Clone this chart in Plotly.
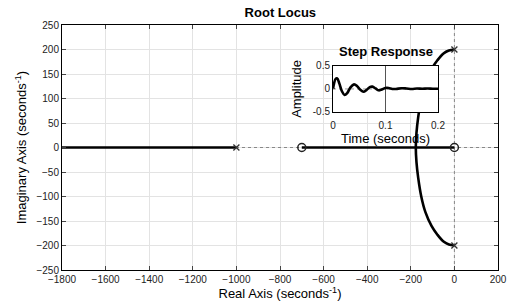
import plotly.graph_objects as go

# Root locus data
poles_re = [-1000, 0, 0]
poles_im = [0, 200, -200]
zeros_re = [-700, 0]
zeros_im = [0, 0]

branch_left_re = [-1800, -1000]
branch_left_im = [0, 0]
branch_mid_re = [-700, 0]
branch_mid_im = [0, 0]

cplx_re = [0, -25, -50, -78, -105, -133, -152, -166, -174, -177,
           -174, -166, -152, -133, -105, -78, -50, -25, 0]
cplx_im = [200, 198, 192, 178, 160, 132, 100, 62, 30, 0,
           -30, -62, -100, -132, -160, -178, -192, -198, -200]

# Step response (inset)
step_t = [0, 0.002, 0.005, 0.008, 0.012, 0.017, 0.022, 0.027, 0.033, 0.040,
          0.046, 0.052, 0.058, 0.064, 0.070, 0.075, 0.081, 0.087, 0.093, 0.100,
          0.106, 0.113, 0.120, 0.130, 0.140, 0.150, 0.160, 0.170, 0.180, 0.190, 0.200]
step_y = [0, 0.12, 0.22, 0.23, 0.12, -0.05, -0.13, -0.09, 0.03, 0.10,
          0.06, -0.02, -0.06, -0.02, 0.04, 0.05, 0.01, -0.03, -0.01, 0.02,
          0.02, 0.0, 0.0, 0.015, 0.01, 0.0, 0.01, 0.005, 0.01, 0.005, 0.005]

x_ticks = [-1800, -1600, -1400, -1200, -1000, -800, -600, -400, -200, 0, 200]
y_ticks = [-250, -200, -150, -100, -50, 0, 50, 100, 150, 200, 250]

FONT = "Liberation Sans, Arial, sans-serif"
LW = 2.6

fig = go.Figure()

# dotted zero lines
fig.add_trace(go.Scatter(x=[-1800, 200], y=[0, 0], mode="lines",
                         line=dict(color="#888888", width=1, dash="dot"),
                         hoverinfo="skip", showlegend=False))
fig.add_trace(go.Scatter(x=[0, 0], y=[-250, 250], mode="lines",
                         line=dict(color="#888888", width=1, dash="dot"),
                         hoverinfo="skip", showlegend=False))

for xr, yr in [(branch_left_re, branch_left_im), (branch_mid_re, branch_mid_im)]:
    fig.add_trace(go.Scatter(x=xr, y=yr, mode="lines",
                             line=dict(color="black", width=LW), showlegend=False))
fig.add_trace(go.Scatter(x=cplx_re, y=cplx_im, mode="lines",
                         line=dict(color="black", width=LW, shape="spline"),
                         showlegend=False))
fig.add_trace(go.Scatter(x=poles_re, y=poles_im, mode="markers",
                         marker=dict(symbol="x-thin", size=6, color="#333333",
                                     line=dict(color="#333333", width=1.3)),
                         showlegend=False))
fig.add_trace(go.Scatter(x=zeros_re, y=zeros_im, mode="markers",
                         marker=dict(symbol="circle-open", size=8, color="#222222",
                                     line=dict(color="#222222", width=1.5)),
                         showlegend=False))

# inset step response
fig.add_trace(go.Scatter(x=[0, 0.2], y=[0, 0], mode="lines", xaxis="x2", yaxis="y2",
                         line=dict(color="#999999", width=1, dash="dot"),
                         hoverinfo="skip", showlegend=False))
fig.add_trace(go.Scatter(x=[0.1, 0.1], y=[-0.5, 0.5], mode="lines", xaxis="x2", yaxis="y2",
                         line=dict(color="#555555", width=1),
                         hoverinfo="skip", showlegend=False))
fig.add_trace(go.Scatter(x=step_t, y=step_y, mode="lines", xaxis="x2", yaxis="y2",
                         line=dict(color="black", width=LW, shape="spline"),
                         showlegend=False))

fig.update_layout(
    width=507, height=308,
    margin=dict(l=62, r=9, t=25, b=38, autoexpand=False),
    paper_bgcolor="white", plot_bgcolor="white",
    font=dict(family=FONT, size=10, color="black"),
    title=dict(text="<b>Root Locus</b>", x=0.553, xanchor="center", y=0.96, yanchor="middle",
               font=dict(size=13, family=FONT)),
    xaxis=dict(range=[-1800, 200], tickvals=x_ticks, ticks="inside", ticklen=4,
               showline=True, linecolor="black", linewidth=1, mirror="ticks",
               showgrid=True, gridcolor="#e3e3e3", gridwidth=1, zeroline=False,
               automargin=False,
               tickfont=dict(size=10, color="#222222"),
               title=dict(text="Real Axis (seconds<sup>-1</sup>)", standoff=4,
                          font=dict(size=13))),
    yaxis=dict(range=[-250, 250], tickvals=y_ticks, ticks="inside", ticklen=4,
               showline=True, linecolor="black", linewidth=1, mirror="ticks",
               showgrid=True, gridcolor="#e3e3e3", gridwidth=1, zeroline=False,
               automargin=False,
               tickfont=dict(size=10, color="#222222"),
               title=dict(text="Imaginary Axis (seconds<sup>-1</sup>)", standoff=6,
                          font=dict(size=13))),
    xaxis2=dict(domain=[0.6216, 0.8624], anchor="y2", range=[0, 0.2],
                tickvals=[0, 0.1, 0.2], ticktext=["0", "0.1", "0.2"],
                ticks="inside", ticklen=2, automargin=False, ticklabelstandoff=4,
                showline=True, linecolor="black", linewidth=1, mirror=True,
                showgrid=False, zeroline=False,
                tickfont=dict(size=10, color="#222222"),
                title=dict(text="Time (seconds)", standoff=2, font=dict(size=13))),
    yaxis2=dict(domain=[0.645, 0.833], anchor="x2", range=[-0.5, 0.5],
                tickvals=[-0.5, 0, 0.5], ticktext=["-0.5", "0", "0.5"],
                ticks="inside", ticklen=2, automargin=False,
                showline=True, linecolor="black", linewidth=1, mirror=True,
                showgrid=False, zeroline=False,
                tickfont=dict(size=10, color="#222222"),
                title=dict(text="Amplitude", standoff=8, font=dict(size=13))),
    annotations=[dict(text="<b>Step Response</b>", xref="paper", yref="paper",
                      x=0.742, y=0.89, xanchor="center", yanchor="middle",
                      showarrow=False, font=dict(size=13, family=FONT))],
)

fig.write_html("out.html", config={"displayModeBar": False},
               post_script="document.body.style.margin='0px';document.body.style.padding='0px';")
